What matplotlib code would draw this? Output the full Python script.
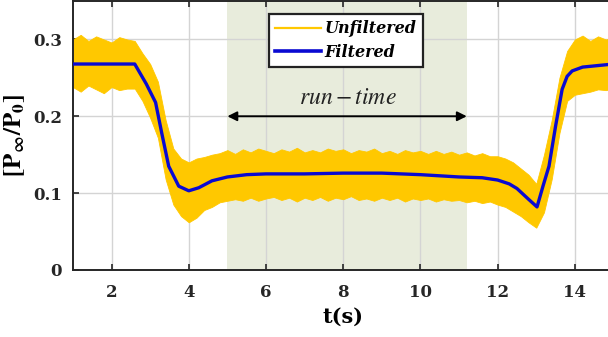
import numpy as np
import matplotlib
matplotlib.use("Agg")
import matplotlib.pyplot as plt
from matplotlib.lines import Line2D

plt.rcParams["mathtext.fontset"] = "stix"
plt.rcParams["font.family"] = ["DejaVu Serif"]

# ---------------------------------------------------------------------------
# Datos
# ---------------------------------------------------------------------------

# Señal filtrada (puntos clave)
t_filt = [1.0, 2.6, 2.9, 3.14, 3.3, 3.48, 3.74, 4.0, 4.26, 4.6, 5.0, 5.5, 6.0,
          7.0, 8.0, 9.0, 10.0, 11.0, 11.6, 12.0, 12.3, 12.5, 12.8, 13.02,
          13.18, 13.33, 13.5, 13.67, 13.8, 13.93, 14.2, 14.6, 15.0]
p_filt = [0.268, 0.268, 0.242, 0.218, 0.178, 0.135, 0.109, 0.103, 0.107,
          0.116, 0.121, 0.124, 0.125, 0.125, 0.126, 0.126, 0.124, 0.121,
          0.120, 0.117, 0.112, 0.106, 0.092, 0.082, 0.110, 0.135, 0.187,
          0.235, 0.252, 0.259, 0.264, 0.266, 0.268]

# Envolvente de la señal sin filtrar (cada 0.2 s)
t_band = [1.0, 1.2, 1.4, 1.6, 1.8, 2.0, 2.2, 2.4, 2.6, 2.8, 3.0, 3.2, 3.4,
          3.6, 3.8, 4.0, 4.2, 4.4, 4.6, 4.8, 5.0, 5.2, 5.4, 5.6, 5.8, 6.0,
          6.2, 6.4, 6.6, 6.8, 7.0, 7.2, 7.4, 7.6, 7.8, 8.0, 8.2, 8.4, 8.6,
          8.8, 9.0, 9.2, 9.4, 9.6, 9.8, 10.0, 10.2, 10.4, 10.6, 10.8, 11.0,
          11.2, 11.4, 11.6, 11.8, 12.0, 12.2, 12.4, 12.6, 12.8, 13.0, 13.2,
          13.4, 13.6, 13.8, 14.0, 14.2, 14.4, 14.6, 14.8, 15.0]
p_upper = [0.300, 0.306, 0.298, 0.304, 0.300, 0.296, 0.303, 0.300, 0.298,
           0.282, 0.268, 0.245, 0.195, 0.158, 0.145, 0.140, 0.145, 0.147,
           0.150, 0.152, 0.156, 0.151, 0.157, 0.153, 0.158, 0.155, 0.152,
           0.157, 0.154, 0.159, 0.153, 0.156, 0.153, 0.158, 0.155, 0.157,
           0.152, 0.156, 0.154, 0.158, 0.152, 0.155, 0.151, 0.156, 0.153,
           0.155, 0.151, 0.155, 0.151, 0.154, 0.150, 0.153, 0.149, 0.152,
           0.148, 0.148, 0.145, 0.140, 0.132, 0.124, 0.112, 0.150, 0.195,
           0.250, 0.285, 0.300, 0.305, 0.298, 0.304, 0.300, 0.302]
p_lower = [0.238, 0.232, 0.240, 0.235, 0.230, 0.238, 0.234, 0.236, 0.236,
           0.220, 0.198, 0.172, 0.118, 0.085, 0.070, 0.062, 0.068, 0.078,
           0.082, 0.088, 0.090, 0.092, 0.090, 0.094, 0.090, 0.093, 0.095,
           0.091, 0.094, 0.089, 0.094, 0.091, 0.095, 0.090, 0.094, 0.092,
           0.096, 0.091, 0.093, 0.090, 0.094, 0.091, 0.094, 0.089, 0.093,
           0.091, 0.093, 0.089, 0.092, 0.090, 0.091, 0.088, 0.090, 0.087,
           0.089, 0.085, 0.082, 0.076, 0.070, 0.062, 0.055, 0.075, 0.118,
           0.178, 0.220, 0.228, 0.230, 0.232, 0.235, 0.234, 0.236]

# Zona de "run-time"
run_inicio, run_fin = 5.0, 11.2

# ---------------------------------------------------------------------------
# Figura
# ---------------------------------------------------------------------------

fig = plt.figure(figsize=(6.08, 3.37), dpi=100)
ax = fig.add_axes([0.120, 0.199, 0.889, 0.798])

ax.axvspan(run_inicio, run_fin, color="#e8ecdc", zorder=0.2, linewidth=0)

ax.fill_between(t_band, p_lower, p_upper, color="#ffc800", linewidth=0.6,
                edgecolor="#ffc800", zorder=2)
ax.plot(t_filt, p_filt, color="#0a0ad2", linewidth=2.4, zorder=3)

# Flecha doble
ax.annotate("", xy=(run_inicio, 0.2), xytext=(run_fin, 0.2),
            arrowprops=dict(arrowstyle="<|-|>", color="black", lw=1.4,
                            mutation_scale=14, shrinkA=0, shrinkB=0),
            zorder=4)
ax.text(8.12, 0.224, r"$run-time$", ha="center", va="center",
        fontsize=17, color="#222222")

ax.set_xlim(1, 15)
ax.set_ylim(0, 0.35)
ax.set_xticks([2, 4, 6, 8, 10, 12, 14])
ax.set_yticks([0, 0.1, 0.2, 0.3])
ax.set_yticklabels(["0", "0.1", "0.2", "0.3"])
ax.grid(True, color="#d4d4d4", linewidth=1.0)
ax.set_axisbelow(True)

ax.tick_params(direction="in", length=4, width=1.2, top=True,
               labelsize=12, colors="#262626")
ax.tick_params(axis="x", pad=10)
ax.tick_params(axis="y", pad=8)
for etiqueta in ax.get_xticklabels() + ax.get_yticklabels():
    etiqueta.set_fontweight("bold")
for lado in ["left", "bottom", "top"]:
    ax.spines[lado].set_linewidth(1.4)
    ax.spines[lado].set_color("#262626")
ax.spines["right"].set_visible(False)

ax.set_xlabel("t(s)", fontsize=15, fontweight="bold", labelpad=4)
ax.set_ylabel(r"$\mathbf{[P_{\infty}/P_{0}]}$", fontsize=18, labelpad=4)

manejadores = [Line2D([], [], color="#ffc800", linewidth=1.6),
               Line2D([], [], color="#0a0ad2", linewidth=2.6)]
leyenda = ax.legend(manejadores, ["Unfiltered", "Filtered"],
                    loc="upper left", bbox_to_anchor=(0.362, 0.952),
                    prop=dict(family="DejaVu Serif", weight="bold",
                              style="italic", size=11.5),
                    frameon=True, fancybox=False, handlelength=2.9,
                    handletextpad=0.2, borderpad=0.4, labelspacing=0.4,
                    borderaxespad=0)
leyenda.get_frame().set_edgecolor("#222222")
leyenda.get_frame().set_linewidth(1.6)
leyenda.get_frame().set_alpha(1)
leyenda.set_zorder(5)

fig.savefig("out.png", dpi=100)
